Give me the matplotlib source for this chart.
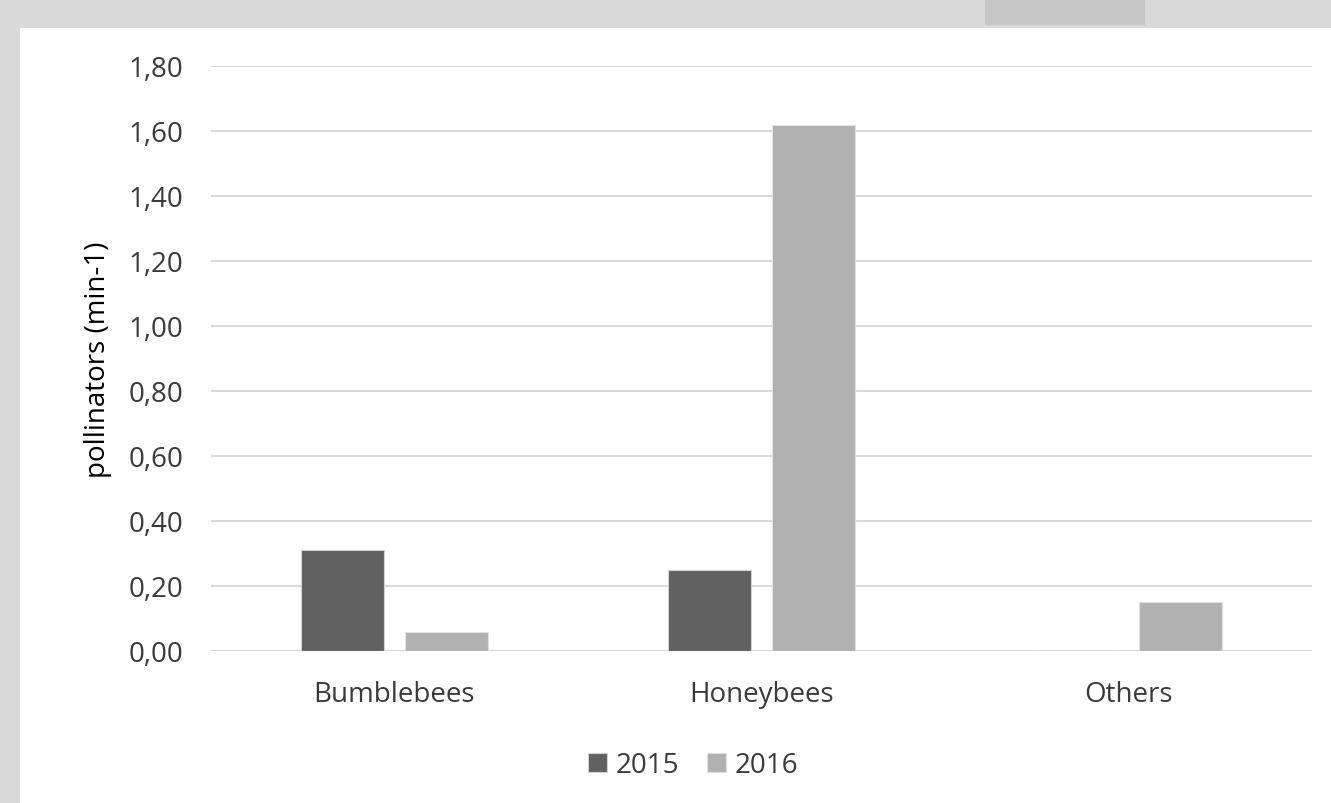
import matplotlib
matplotlib.use("Agg")
import matplotlib.pyplot as plt
from matplotlib.patches import Rectangle
import numpy as np

categories = ["Bumblebees", "Honeybees", "Others"]
years = ["2015", "2016"]
values_2015 = [0.31, 0.25, 0.0]
values_2016 = [0.06, 1.62, 0.15]
yticks = [0.0, 0.2, 0.4, 0.6, 0.8, 1.0, 1.2, 1.4, 1.6, 1.8]

plt.rcParams['font.family'] = ['Open Sans', 'DejaVu Sans']

W, H = 1331, 804
FS = 20
fig = plt.figure(figsize=(W / 100, H / 100), dpi=100)
fig.patch.set_facecolor('#d9d9d9')

# white panel
fig.patches.append(Rectangle((20 / W, 0), 1 - 20 / W, 1 - 29 / H, transform=fig.transFigure,
                             facecolor='white', edgecolor='none', zorder=-5))
# darker patch at top
fig.patches.append(Rectangle((985 / W, 1 - 26 / H), 160 / W, 26 / H, transform=fig.transFigure,
                             facecolor='#c6c6c6', edgecolor='none', zorder=-5))

ax = fig.add_axes([211 / W, 1 - 652 / H, (1312 - 211) / W, (652 - 67) / H])
ax.set_facecolor('none')
ax.set_zorder(2)

x = np.arange(len(categories))
bw = 0.226
off = 0.141
c2015 = '#616161'
c2016 = '#b1b1b1'
ax.bar(x - off, values_2015, bw, color=c2015, edgecolor='#d0d0d0', linewidth=0.8, label=years[0], zorder=3)
ax.bar(x + off, values_2016, bw, color=c2016, edgecolor='#e0e0e0', linewidth=0.8, label=years[1], zorder=3)

ax.set_xlim(-0.5, 2.5)
ax.set_ylim(0, 1.8)
ax.set_yticks(yticks)
ax.set_yticklabels([f"{v:.2f}".replace('.', ',') for v in yticks])
ax.set_xticks(x)
ax.set_xticklabels(categories)
ax.grid(axis='y', color='#d9d9d9', linewidth=1.5, zorder=0)
ax.set_axisbelow(True)
for s in ax.spines.values():
    s.set_visible(False)
ax.tick_params(axis='both', length=0, labelsize=FS, colors='#3a3a3a')
ax.tick_params(axis='y', pad=20)
ax.tick_params(axis='x', pad=21)
ax.set_ylabel("pollinators (min-1)", fontsize=FS, color='black', labelpad=12)

leg = fig.legend(loc='center', bbox_to_anchor=(693 / W, 1 - 766 / H), ncol=2, frameon=False,
                 fontsize=FS, handlelength=0.7, handleheight=0.7, handletextpad=0.3,
                 columnspacing=1.0)
for t in leg.get_texts():
    t.set_color('#3a3a3a')

fig.savefig("out.png", dpi=100, facecolor=fig.get_facecolor())
